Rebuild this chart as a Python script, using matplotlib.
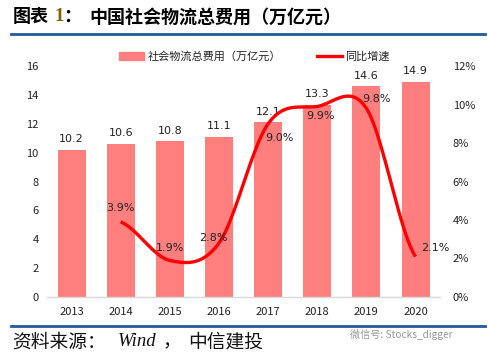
import numpy as np
import matplotlib
matplotlib.use("Agg")
import matplotlib.pyplot as plt
from matplotlib.lines import Line2D
from matplotlib.patches import Patch

plt.rcParams['font.family'] = ['Noto Sans CJK SC', 'DejaVu Sans']

years = ['2013', '2014', '2015', '2016', '2017', '2018', '2019', '2020']
cost = [10.2, 10.6, 10.8, 11.1, 12.1, 13.3, 14.6, 14.9]
growth_years = ['2014', '2015', '2016', '2017', '2018', '2019', '2020']
growth = [3.9, 1.9, 2.8, 9.0, 9.9, 9.8, 2.1]
left_ticks = [0, 2, 4, 6, 8, 10, 12, 14, 16]
right_ticks = [0, 2, 4, 6, 8, 10, 12]

bar_color = '#FF7F7F'
line_color = '#FF0000'
txt = '#222222'

fig = plt.figure(figsize=(4.89, 3.58), dpi=100)
ax = fig.add_axes([0.096, 0.1704, 0.804, 0.6452])
ax2 = ax.twinx()

x = np.arange(len(years))
ax.bar(x, cost, width=0.57, color=bar_color, zorder=2)
for xi, v in zip(x, cost):
    ax.annotate(f'{v:.1f}', (xi, v), xytext=(0, 4), textcoords='offset points',
                ha='center', va='bottom', fontsize=8, color=txt, family='DejaVu Sans')

ax.set_xlim(-0.5, len(years) - 0.5)
ax.set_ylim(0, 16)
ax.set_yticks(left_ticks)
ax.set_xticks(x)
ax.set_xticklabels(years)
ax.tick_params(length=0, labelsize=8, colors=txt, pad=6)
ax.tick_params(axis='x', pad=7)
for s in ['top', 'left', 'right']:
    ax.spines[s].set_visible(False)
ax.spines['bottom'].set_color('#D9D9D9')
ax.spines['bottom'].set_linewidth(1)

# smooth line (Catmull-Rom through the data points)
gx = np.array([years.index(y) for y in growth_years], dtype=float)
gy = np.array(growth, dtype=float)
px = np.concatenate([[2 * gx[0] - gx[1]], gx, [2 * gx[-1] - gx[-2]]])
py = np.concatenate([[gy[0]], gy, [gy[-1]]])
cx, cy = [], []
for i in range(1, len(px) - 2):
    p0, p1, p2, p3 = [np.array([px[j], py[j]]) for j in (i - 1, i, i + 1, i + 2)]
    c1 = p1 + (p2 - p0) / 6
    c2 = p2 - (p3 - p1) / 6
    t = np.linspace(0, 1, 40)[:, None]
    pts = (1 - t) ** 3 * p1 + 3 * (1 - t) ** 2 * t * c1 + 3 * (1 - t) * t ** 2 * c2 + t ** 3 * p2
    cx.extend(pts[:, 0]); cy.extend(pts[:, 1])
ax2.plot(cx, cy, color=line_color, lw=2.4, zorder=3, solid_capstyle='butt')
ax2.set_ylim(0, 12)
ax2.set_yticks(right_ticks)
ax2.set_yticklabels([f'{t}%' for t in right_ticks])
ax2.tick_params(length=0, labelsize=8, colors=txt, pad=9)
for s in ['top', 'left', 'right', 'bottom']:
    ax2.spines[s].set_visible(False)

label_offsets = [(0, 10), (0, 9), (-4, 4), (8, -10), (2, -7), (7, 7), (14, 6)]
for xi, v, off in zip(gx, gy, label_offsets):
    ax2.annotate(f'{v:.1f}%', (xi, v), xytext=off, textcoords='offset points',
                 ha='center', va='center', fontsize=8, color=txt, family='DejaVu Sans')

# legend
handles = [Patch(color=bar_color), Line2D([0], [0], color=line_color, lw=2.4)]
fig.legend(handles, ['社会物流总费用（万亿元）', '同比增速'], loc='center',
           bbox_to_anchor=(0.52, 0.842), ncol=2, frameon=False, fontsize=8,
           handlelength=2.3, handleheight=0.6, columnspacing=3.2, handletextpad=0.3,
           labelcolor=txt)

# title & rules
fig.text(0.025, 0.953, '图表', fontsize=13, fontweight='bold', va='center', ha='left')
fig.text(0.112, 0.953, '1', fontsize=13.5, fontweight='bold', va='center', ha='left',
         color='#7F6000', family='Liberation Serif')
fig.text(0.130, 0.953, '：', fontsize=13, fontweight='bold', va='center', ha='left')
fig.text(0.183, 0.953, '中国社会物流总费用（万亿元）', fontsize=13, fontweight='bold',
         va='center', ha='left')
fig.add_artist(Line2D([0.022, 0.992], [0.905, 0.905], color='#1F5C99', lw=2))
fig.add_artist(Line2D([0.022, 0.992], [0.09, 0.09], color='#1F5C99', lw=2))

src_kw = dict(fontsize=13.5, style='italic', va='center', ha='left', color='#111111')
fig.text(0.025, 0.045, '资料来源：', family=['Noto Sans CJK SC'], **src_kw)
fig.text(0.241, 0.045, 'Wind', family=['Liberation Serif'], **src_kw)
fig.text(0.332, 0.045, '，', family=['Noto Sans CJK SC'], **src_kw)
fig.text(0.384, 0.045, '中信建投', family=['Noto Sans CJK SC'], **src_kw)
fig.text(0.715, 0.067, '微信号: Stocks_digger', fontsize=7.3, va='center', ha='left',
         color='#999999')

fig.savefig('out.png', dpi=100)
